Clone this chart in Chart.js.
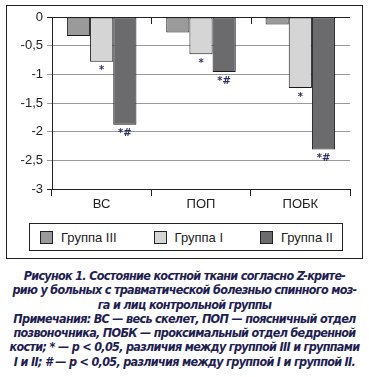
<!DOCTYPE html>
<html>
<head>
<meta charset="utf-8">
<script src="https://cdn.jsdelivr.net/npm/chart.js@4"></script>
<style>
  body { margin: 0; background: #fff; width: 369px; height: 377px; position: relative; overflow: hidden; font-family: "Liberation Sans", Arial, sans-serif; }
  #frame { position: absolute; left: 6px; top: 5px; width: 355px; height: 252px; border: 1px solid #222; }
  #wrap { position: absolute; left: 0; top: 0; width: 369px; height: 215px; }
  #legend { position: absolute; left: 29px; top: 223px; height: 26px; border: 1px solid #222;
            display: flex; justify-content: space-between; align-items: center; padding: 0 9px 0 10px; box-sizing: content-box; width: 293px; }
  .item { display: flex; align-items: center; font-size: 13px; color: #222; }
  .box { width: 11px; height: 11px; border: 1px solid #222; margin-right: 8px; }
  #caption { position: absolute; left: 0; top: 269px; width: 369px; text-align: center; color: #1d2050; white-space: nowrap;
             font-family: "Liberation Sans Narrow", "DejaVu Sans Condensed", sans-serif; font-stretch: condensed;
             font-weight: bold; font-style: italic; font-size: 12.5px; line-height: 14.3px; letter-spacing: -0.7px; }
</style>
</head>
<body>
<div id="frame"></div>
<div id="wrap"><canvas id="chart"></canvas></div>
<div id="legend"></div>
<div id="caption">Рисунок 1. Состояние костной ткани согласно Z-крите-<br>рию у больных с травматической болезнью спинного моз-<br>га и лиц контрольной группы<br>Примечания: ВС — весь скелет, ПОП — поясничный отдел<br>позвоночника, ПОБК — проксимальный отдел бедренной<br>кости; * — p &lt; 0,05, различия между группой III и группами<br>I и II; # — p &lt; 0,05, различия между группой I и группой II.</div>
<script>
const categories = ["ВС", "ПОП", "ПОБК"];
const seriesNames = ["Группа III", "Группа I", "Группа II"];
const group3 = [-0.33, -0.27, -0.13];
const group1 = [-0.78, -0.65, -1.24];
const group2 = [-1.88, -0.96, -2.31];
const marks1 = ["*", "*", "*"];
const marks2 = ["*#", "*#", "*#"];
const yTicks = ["0", "-0,5", "-1", "-1,5", "-2", "-2,5", "-3"];

const colors = ["#9a9a9a", "#d5d5d5", "#6b6b6d"];

const markPlugin = {
  id: "marks",
  afterDatasetsDraw(chart) {
    const ctx = chart.ctx;
    ctx.save();
    ctx.fillStyle = "#2d3266";
    ctx.font = "bold 10px 'DejaVu Sans'";
    ctx.textAlign = "center";
    ctx.textBaseline = "top";
    [[1, marks1], [2, marks2]].forEach(([di, marks]) => {
      chart.getDatasetMeta(di).data.forEach((bar, i) => {
        ctx.fillText(marks[i], bar.x, bar.y + 4);
      });
    });
    // short ticks hanging from the zero line
    const x = chart.scales.x, y = chart.scales.y;
    const y0 = y.getPixelForValue(0);
    ctx.strokeStyle = "#222";
    ctx.lineWidth = 1;
    for (let i = 1; i < categories.length; i++) {
      const px = Math.round((x.getPixelForValue(i - 1) + x.getPixelForValue(i)) / 2) + 0.5;
      ctx.beginPath();
      ctx.moveTo(px, y0);
      ctx.lineTo(px, y0 + 7);
      ctx.stroke();
    }
    ctx.restore();
  }
};

const chart = new Chart(document.getElementById("chart"), {
  type: "bar",
  data: {
    labels: categories,
    datasets: [group3, group1, group2].map((d, i) => ({
      label: seriesNames[i],
      data: d,
      backgroundColor: colors[i],
      borderColor: "#1a1a1a",
      borderWidth: 1,
      borderSkipped: false,
      categoryPercentage: 0.7,
      barPercentage: 1,
    })),
  },
  options: {
    responsive: true,
    maintainAspectRatio: false,
    animation: false,
    layout: { padding: { left: 0, right: 19, top: 17, bottom: 0 } },
    plugins: { legend: { display: false }, tooltip: { enabled: false } },
    scales: {
      x: {
        afterFit: (s) => { s.height = 26; },
        grid: { offset: true, drawOnChartArea: false, tickLength: 7, color: "#222" },
        border: { color: "#222" },
        ticks: { color: "#222", font: { size: 13, family: "'Liberation Sans'" }, padding: 1 },
      },
      y: {
        min: -3, max: 0,
        afterFit: (s) => { s.width = 52; },
        ticks: {
          stepSize: 0.5,
          color: "#222",
          padding: 4,
          font: { size: 13, family: "'Liberation Sans'" },
          callback: (v) => yTicks[Math.round(-v * 2)],
        },
        grid: {
          tickLength: 5,
          color: (c) => (c.tick && (c.tick.value === 0 || c.tick.value === -3)) ? "#222" : "#9a9a9a",
        },
        border: { color: "#222" },
      },
    },
  },
  plugins: [markPlugin],
});

const legend = document.getElementById("legend");
chart.data.datasets.forEach((ds) => {
  const it = document.createElement("div");
  it.className = "item";
  it.innerHTML = `<span class="box" style="background:${ds.backgroundColor}"></span>${ds.label}`;
  legend.appendChild(it);
});
</script>
</body>
</html>
